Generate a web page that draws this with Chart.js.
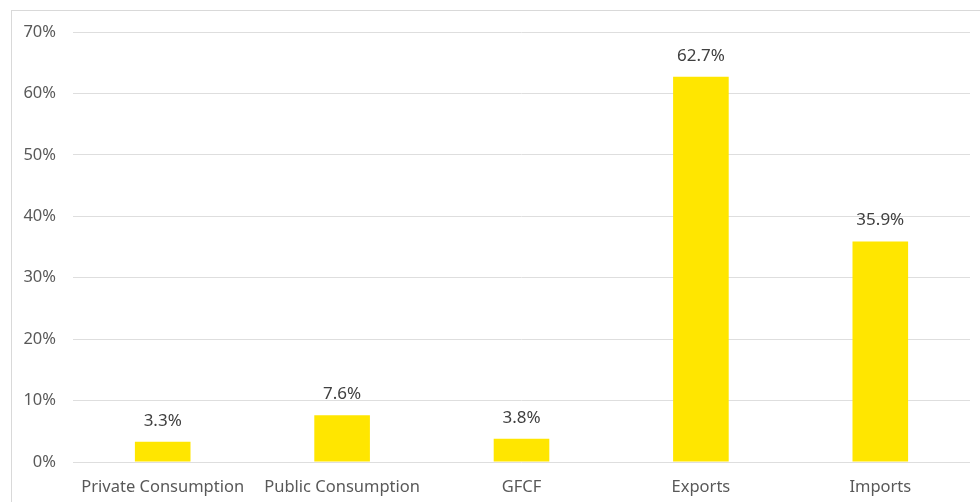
<!DOCTYPE html>
<html>
<head>
<meta charset="utf-8">
<script src="https://cdn.jsdelivr.net/npm/chart.js@4.4.1/dist/chart.umd.min.js"></script>
<style>
  body { margin: 0; background: #fff; }
  #wrap { position: relative; width: 980px; height: 502px; overflow: hidden; }
  #frame { position: absolute; left: 11px; top: 10px; width: 1100px; height: 600px; border: 1px solid #d9d9d9; }
  canvas { position: absolute; left: 0; top: 0; }
</style>
</head>
<body>
<div id="wrap">
  <div id="frame"></div>
  <canvas id="chart" width="980" height="502"></canvas>
</div>
<script>
var categories = ['Private Consumption', 'Public Consumption', 'GFCF', 'Exports', 'Imports'];
var values = [3.3, 7.6, 3.8, 62.7, 35.9];
var yTicks = [0, 10, 20, 30, 40, 50, 60, 70];

var fontFamily = '"Noto Sans", "Open Sans", sans-serif';

var valueLabels = {
  id: 'valueLabels',
  afterDatasetsDraw: function (chart) {
    var ctx = chart.ctx;
    var meta = chart.getDatasetMeta(0);
    ctx.save();
    ctx.font = '17px ' + fontFamily;
    ctx.fillStyle = '#404040';
    ctx.textAlign = 'center';
    ctx.textBaseline = 'middle';
    meta.data.forEach(function (bar, i) {
      ctx.fillText(values[i].toFixed(1) + '%', bar.x, bar.y - 21);
    });
    ctx.restore();
  }
};

new Chart(document.getElementById('chart'), {
  type: 'bar',
  data: {
    labels: categories,
    datasets: [{
      data: values,
      backgroundColor: '#FFE600',
      categoryPercentage: 1,
      barPercentage: 0.31
    }]
  },
  options: {
    responsive: false,
    animation: false,
    layout: { padding: { top: 32, right: 10, left: 0, bottom: 0 } },
    plugins: { legend: { display: false }, tooltip: { enabled: false } },
    scales: {
      x: {
        grid: { display: false },
        border: { display: false },
        ticks: { color: '#595959', font: { size: 16.5, family: fontFamily }, padding: 7, maxRotation: 0 },
        afterFit: function (s) { s.height = 40; }
      },
      y: {
        min: 0,
        max: 70,
        afterBuildTicks: function (s) { s.ticks = yTicks.map(function (v) { return { value: v }; }); },
        grid: { color: '#dedede', lineWidth: 1, drawTicks: false },
        border: { display: false },
        ticks: {
          color: '#595959',
          font: { size: 16.5, family: fontFamily },
          padding: 17,
          callback: function (v) { return v + '%'; }
        },
        afterFit: function (s) { s.width = 73; }
      }
    }
  },
  plugins: [valueLabels]
});
</script>
</body>
</html>
